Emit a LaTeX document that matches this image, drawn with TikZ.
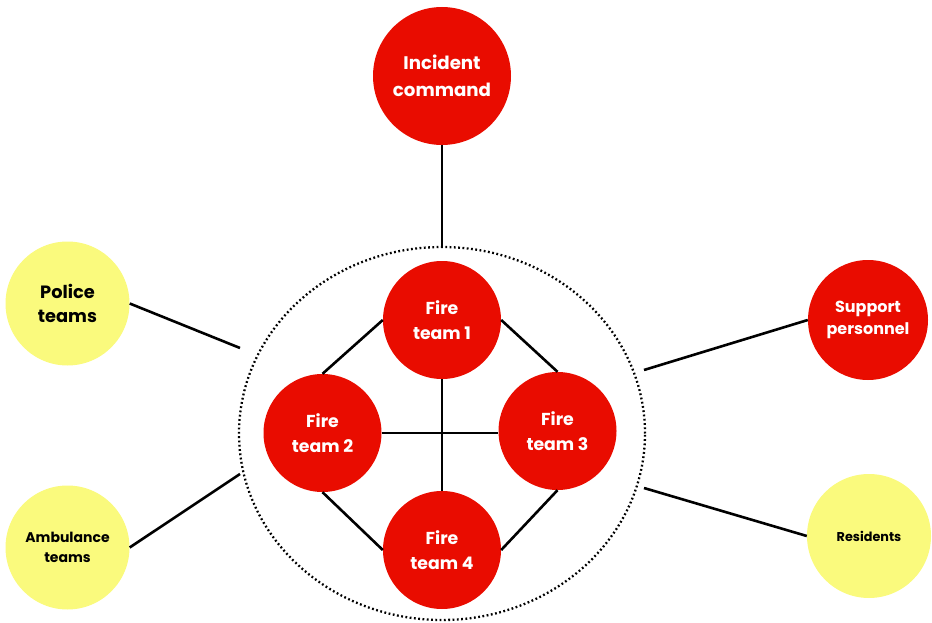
\documentclass[tikz,border=0pt]{standalone}
\usepackage{fontspec}
\setmainfont{Poppins}
\usetikzlibrary{shapes.geometric}
\definecolor{fred}{RGB}{233,12,0}
\definecolor{fyel}{RGB}{250,250,125}
\begin{document}
\begin{tikzpicture}[x=1pt,y=-1pt,
  redc/.style={circle,fill=fred,draw=none,inner sep=0pt,text=white,align=center},
  yelc/.style={circle,fill=fyel,draw=none,inner sep=0pt,text=black,align=center},
  link/.style={line width=2.6pt,black},
  f15/.style={font=\bfseries\fontsize{17.3}{25}\selectfont},
  f16/.style={font=\bfseries\fontsize{18.2}{27}\selectfont}]
\useasboundingbox (0,0) rectangle (932,623);
\node[ellipse,draw,line width=2.3pt,dash pattern=on 1.8pt off 2.5pt,minimum width=406pt,minimum height=373pt,inner sep=0pt] (grp) at (442,433.5) {};
\node[redc,minimum size=138pt,f16] (ic) at (442,76) {Incident\\command};
\node[redc,minimum size=118pt,f15] (f1) at (442,320) {Fire\\team 1};
\node[redc,minimum size=118pt,f15] (f2) at (322.5,433) {Fire\\team 2};
\node[redc,minimum size=118pt,f15] (f3) at (557.5,431) {Fire\\team 3};
\node[redc,minimum size=118pt,f15] (f4) at (442,550) {Fire\\team 4};
\node[yelc,minimum size=124pt,font=\bfseries\fontsize{17.8}{24}\selectfont] (po) at (67.5,303.5) {Police\\teams};
\node[yelc,minimum size=124pt,font=\bfseries\fontsize{14}{20}\selectfont] (am) at (67.5,547.5) {Ambulance\\teams};
\node[redc,minimum size=120pt,font=\bfseries\fontsize{16}{22}\selectfont] (sp) at (868,320) {Support\\personnel};
\node[yelc,minimum size=124pt,font=\bfseries\fontsize{12.8}{20}\selectfont] (re) at (869,536) {Residents};
\coordinate (pl) at (240,348);
\coordinate (al) at (240,474);
\coordinate (sr) at (644,370);
\coordinate (rr) at (644,488);
\draw[link] (ic.south) -- (grp.north);
\draw[link] (po.east) -- (pl);
\draw[link] (am.east) -- (al);
\draw[link] (sp.west) -- (sr);
\draw[link] (re.west) -- (rr);
\draw[link] (f1.west) -- (f2.north);
\draw[link] (f1.east) -- (f3.north);
\draw[link] (f2.south) -- (f4.west);
\draw[link] (f3.south) -- (f4.east);
\draw[link] (f1.south) -- (f4.north);
\draw[link] (f2.east) -- (f2.east -| f3.west);
\end{tikzpicture}
\end{document}
